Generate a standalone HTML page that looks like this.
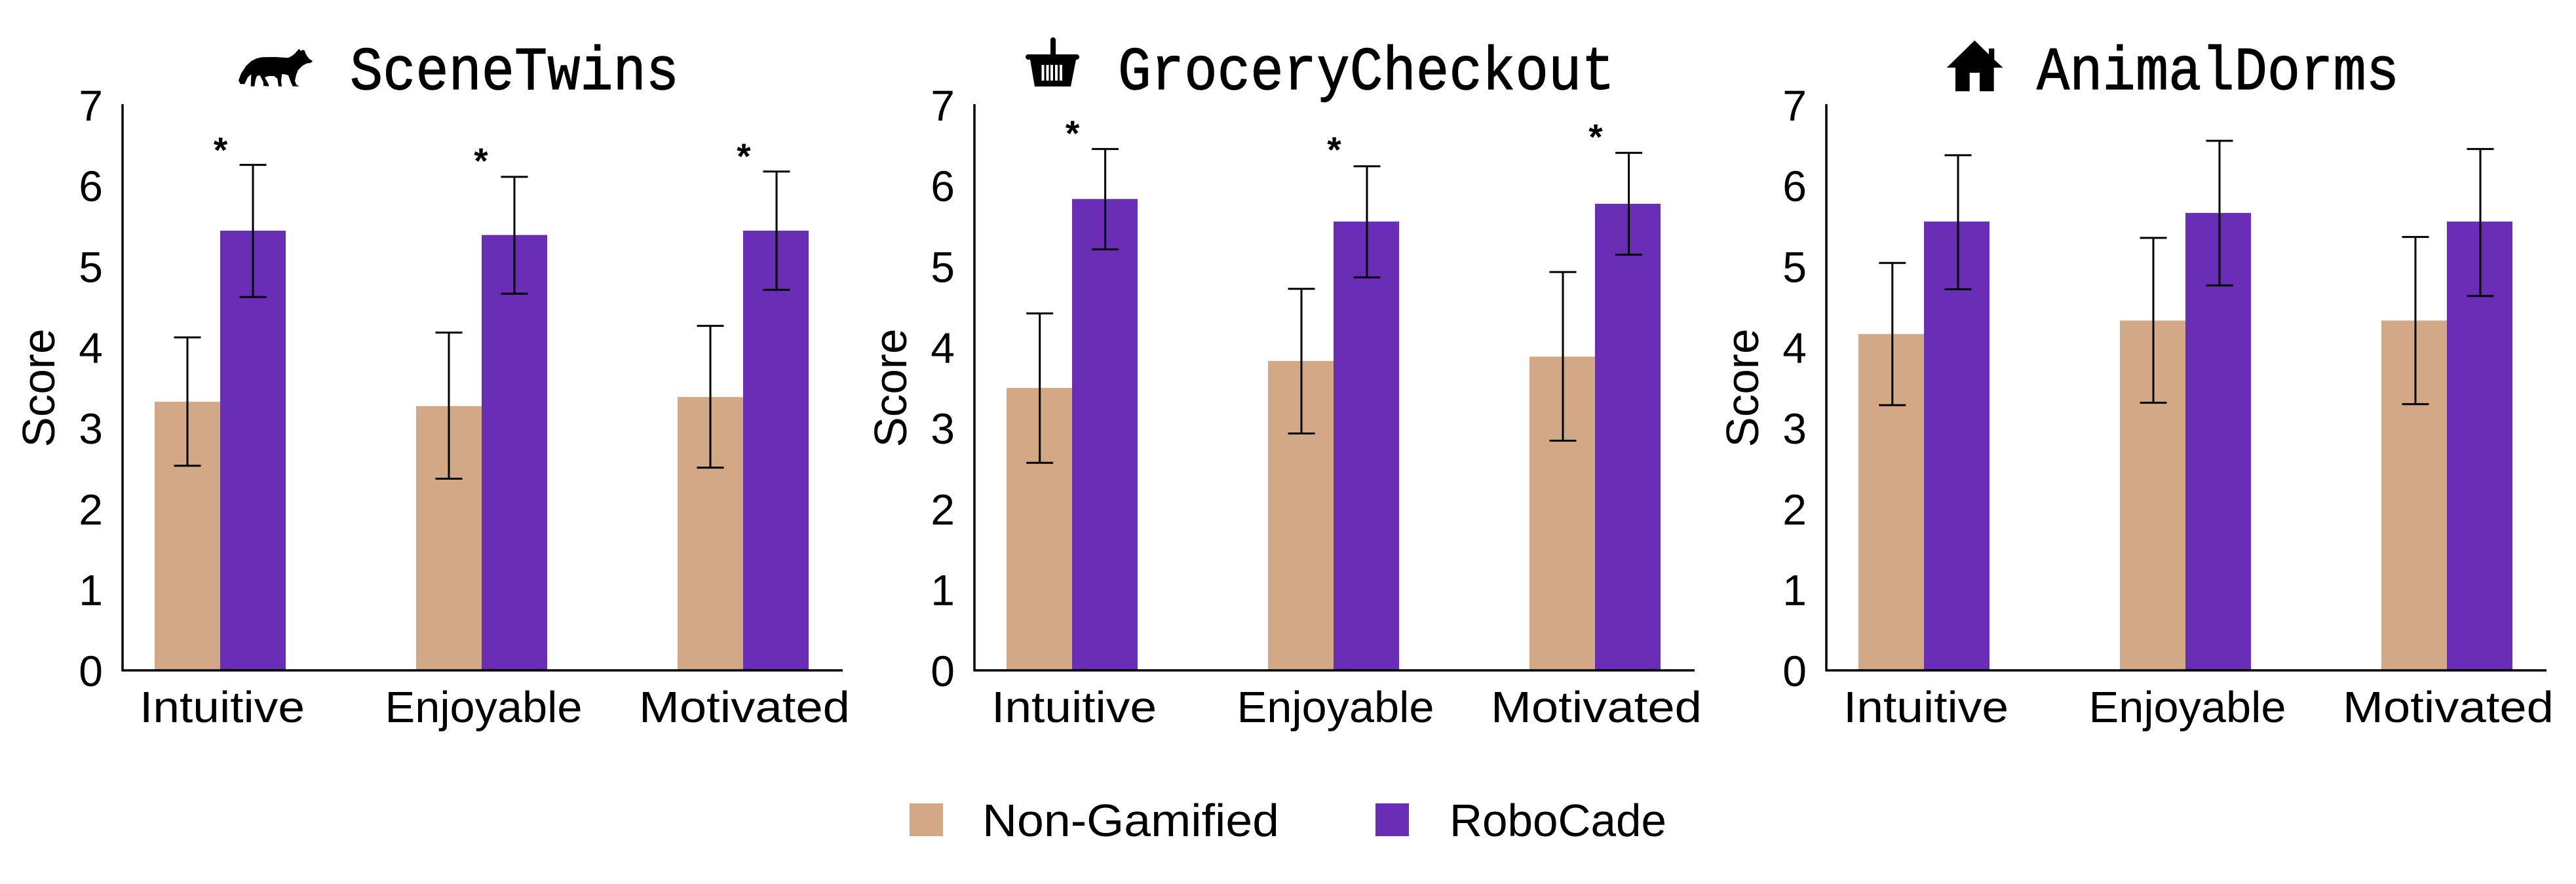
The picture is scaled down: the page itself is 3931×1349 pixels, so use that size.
<!DOCTYPE html>
<html><head><meta charset="utf-8"><style>
html,body{margin:0;padding:0;background:#fff;}
svg{display:block;}
</style></head><body>
<svg width="3931" height="1349" viewBox="0 0 3931 1349" xmlns="http://www.w3.org/2000/svg">
<rect width="3931" height="1349" fill="#fff"/>
<defs>
<g id="axes">
  <line x1="187" y1="159" x2="187" y2="1024.5" stroke="#000" stroke-width="3.5"/>
  <line x1="185.5" y1="1023" x2="1286" y2="1023" stroke="#000" stroke-width="3.5"/>
  <g font-family="Liberation Sans, sans-serif" font-size="66" text-anchor="end" fill="#000">
    <text x="157" y="1047">0</text>
    <text x="157" y="923.7">1</text>
    <text x="157" y="800.4">2</text>
    <text x="157" y="677.1">3</text>
    <text x="157" y="553.8">4</text>
    <text x="157" y="430.5">5</text>
    <text x="157" y="307.2">6</text>
    <text x="157" y="183.9">7</text>
  </g>
  <text transform="translate(83,592) rotate(-90)" font-family="Liberation Sans, sans-serif" font-size="70" text-anchor="middle" textLength="181" lengthAdjust="spacingAndGlyphs">Score</text>
  <g font-family="Liberation Sans, sans-serif" font-size="67" text-anchor="middle" fill="#000">
    <text x="339" y="1102" textLength="252" lengthAdjust="spacingAndGlyphs">Intuitive</text>
    <text x="738" y="1102" textLength="301" lengthAdjust="spacingAndGlyphs">Enjoyable</text>
    <text x="1136" y="1102" textLength="322" lengthAdjust="spacingAndGlyphs">Motivated</text>
  </g>
</g>
</defs>

<!-- Panel 1: SceneTwins -->
<g>
  <rect x="236" y="613.1" width="100" height="409.9" fill="#D3A886"/>
  <rect x="336" y="352" width="100" height="671" fill="#6A2DB6"/>
  <rect x="635" y="619.7" width="100" height="403.3" fill="#D3A886"/>
  <rect x="735" y="358.6" width="100" height="664.4" fill="#6A2DB6"/>
  <rect x="1034" y="605.8" width="100" height="417.2" fill="#D3A886"/>
  <rect x="1134" y="352" width="100" height="671" fill="#6A2DB6"/>
  <use href="#axes"/>
  <g stroke="#000" stroke-width="3" fill="none">
    <path d="M286,514.9V710.7M265.5,514.9H306.5M265.5,710.7H306.5"/>
    <path d="M386,251.6V453.2M365.5,251.6H406.5M365.5,453.2H406.5"/>
    <path d="M685,507.5V730.5M664.5,507.5H705.5M664.5,730.5H705.5"/>
    <path d="M785,269.9V448.1M764.5,269.9H805.5M764.5,448.1H805.5"/>
    <path d="M1084,497.2V713.6M1063.5,497.2H1104.5M1063.5,713.6H1104.5"/>
    <path d="M1185,261.8V442.2M1164.5,261.8H1205.5M1164.5,442.2H1205.5"/>
  </g>
  <g font-family="Liberation Sans, sans-serif" font-size="55" font-weight="bold" text-anchor="middle">
    <text x="336.6" y="247.5">*</text>
    <text x="734" y="264">*</text>
    <text x="1135" y="257">*</text>
  </g>
  <path fill="#000" d="M364,122.7 L368,112 L376,100 L383.3,93.3 L392,89 L400,87.3 L420,87 L440,88.3 L446,85 L450,81.7 L454,77 L456.7,74.5 L459,78 L462,76 L465,77.3 L466,81 L468.3,85 L472,90 L477.3,93.3 L474,96 L468.3,96.7 L462,100 L455,106.7 L452,114 L450,123.3 L452,129 L456.7,131.7 L446.7,131.7 L444,126 L440,115 L434,113.3 L430,113.3 L429,124 L430,131.7 L425,131.7 L423.3,120 L418,116 L410,116 L404,118 L410,129 L410,131.7 L402,131 L401.7,125 L396.7,115 L392,116 L390,121.7 L388.3,131.7 L382.7,131.7 L383.3,113.3 L378,118 L373.3,128.3 L366.7,128.3 Z"/>
  <text x="534" y="136" font-family="Liberation Mono, monospace" font-size="94" textLength="502" lengthAdjust="spacingAndGlyphs" stroke="#000" stroke-width="1.2">SceneTwins</text>
</g>

<!-- Panel 2: GroceryCheckout -->
<g transform="translate(1300,0)">
  <rect x="236" y="591.9" width="100" height="431.1" fill="#D3A886"/>
  <rect x="336" y="303.6" width="100" height="719.4" fill="#6A2DB6"/>
  <rect x="635" y="550.8" width="100" height="472.2" fill="#D3A886"/>
  <rect x="735" y="338.1" width="100" height="684.9" fill="#6A2DB6"/>
  <rect x="1034" y="544.2" width="100" height="478.8" fill="#D3A886"/>
  <rect x="1134" y="311" width="100" height="712" fill="#6A2DB6"/>
  <use href="#axes"/>
  <g stroke="#000" stroke-width="3" fill="none">
    <path d="M286.7,478.2V706.3M266.2,478.2H307.2M266.2,706.3H307.2"/>
    <path d="M386.6,227.4V380.6M366.1,227.4H407.1M366.1,380.6H407.1"/>
    <path d="M686,440.8V661.5M665.5,440.8H706.5M665.5,661.5H706.5"/>
    <path d="M786,253.8V423.2M765.5,253.8H806.5M765.5,423.2H806.5"/>
    <path d="M1085,415.1V672.5M1064.5,415.1H1105.5M1064.5,672.5H1105.5"/>
    <path d="M1185.6,233.2V388.7M1165.1,233.2H1206.1M1165.1,388.7H1206.1"/>
  </g>
  <g font-family="Liberation Sans, sans-serif" font-size="55" font-weight="bold" text-anchor="middle">
    <text x="336.6" y="222">*</text>
    <text x="736" y="247">*</text>
    <text x="1135" y="227.5">*</text>
  </g>
  <g fill="#000">
    <rect x="303" y="57" width="8" height="30" rx="4"/>
    <rect x="265" y="83" width="82" height="8" rx="4"/>
    <path d="M272,91 L342,91 L334,132 L279,132 Z"/>
  </g>
  <g fill="#fff">
    <rect x="289.5" y="99" width="4" height="24"/>
    <rect x="296.5" y="99" width="4" height="24"/>
    <rect x="303" y="99" width="4" height="24"/>
    <rect x="310" y="99" width="4" height="24"/>
    <rect x="317" y="99" width="4" height="24"/>
  </g>
  <text x="406" y="136" font-family="Liberation Mono, monospace" font-size="94" textLength="758" lengthAdjust="spacingAndGlyphs" stroke="#000" stroke-width="1.2">GroceryCheckout</text>
</g>

<!-- Panel 3: AnimalDorms -->
<g transform="translate(2600,0)">
  <rect x="236" y="509.7" width="100" height="513.3" fill="#D3A886"/>
  <rect x="336" y="338.1" width="100" height="684.9" fill="#6A2DB6"/>
  <rect x="635" y="489.2" width="100" height="533.8" fill="#D3A886"/>
  <rect x="735" y="324.9" width="100" height="698.1" fill="#6A2DB6"/>
  <rect x="1034" y="489.2" width="100" height="533.8" fill="#D3A886"/>
  <rect x="1134" y="338.1" width="100" height="684.9" fill="#6A2DB6"/>
  <use href="#axes"/>
  <g stroke="#000" stroke-width="3" fill="none">
    <path d="M287.8,401.2V618.3M267.3,401.2H308.3M267.3,618.3H308.3"/>
    <path d="M388,236.9V441.5M367.5,236.9H408.5M367.5,441.5H408.5"/>
    <path d="M686,363V614.6M665.5,363H706.5M665.5,614.6H706.5"/>
    <path d="M787,214.9V435.6M766.5,214.9H807.5M766.5,435.6H807.5"/>
    <path d="M1086,361.6V616.8M1065.5,361.6H1106.5M1065.5,616.8H1106.5"/>
    <path d="M1185,227.4V451.8M1164.5,227.4H1205.5M1164.5,451.8H1205.5"/>
  </g>
  <path fill="#000" d="M413.3,61.7 L435,83 L435,74 L443.3,74 L443.3,91 L456.7,103.3 L442.7,103.3 L442.7,139.3 L421,139.3 L421,111 L405.7,111 L405.7,139.3 L384,139.3 L384,103.3 L370.7,103.3 Z"/>
  <text x="508" y="136" font-family="Liberation Mono, monospace" font-size="94" textLength="553" lengthAdjust="spacingAndGlyphs" stroke="#000" stroke-width="1.2">AnimalDorms</text>
</g>

<!-- Legend -->
<rect x="1388" y="1226" width="51" height="50" fill="#D3A886"/>
<text x="1499" y="1276" font-family="Liberation Sans, sans-serif" font-size="70" textLength="453" lengthAdjust="spacingAndGlyphs">Non-Gamified</text>
<rect x="2099" y="1226" width="51" height="50" fill="#6A2DB6"/>
<text x="2212" y="1276" font-family="Liberation Sans, sans-serif" font-size="70" textLength="331" lengthAdjust="spacingAndGlyphs">RoboCade</text>
</svg>
</body></html>
